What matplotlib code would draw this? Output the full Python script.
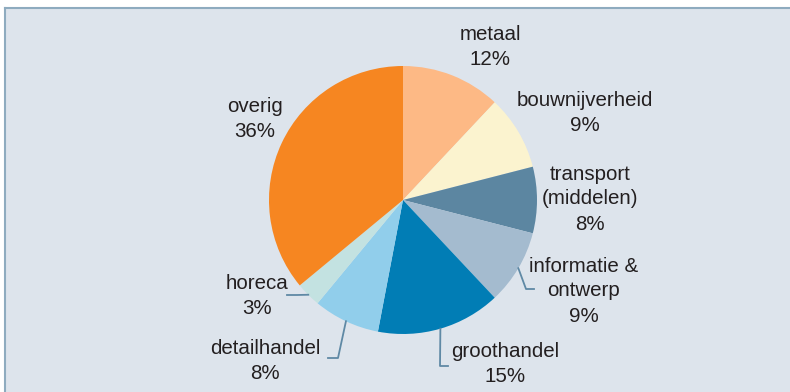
import numpy as np
import matplotlib.pyplot as plt

plt.rcParams['font.family'] = ['Liberation Sans', 'DejaVu Sans']

labels = ["metaal", "bouwnijverheid", "transport\n(middelen)", "informatie &\nontwerp",
          "groothandel", "detailhandel", "horeca", "overig"]
shares = [12, 9, 8, 9, 15, 8, 3, 36]
colors = ["#fdb985", "#fbf3cf", "#5c86a1", "#a4bbcf", "#017db5", "#91ceeb", "#c3e2e1", "#f68621"]

# label centres in pixel coords (x, y from top) and leader line elbows (None = no line)
label_pos = [(490, 47), (585, 113), (590, 199), (584, 291), (505, 364), (265, 361), (257, 296), (255, 119)]
elbows = [None, None, None, [(526, 289), (534, 289)], [(440, 366), (448, 366)],
          [(338, 358), (328, 358)], [(297, 295), (287, 295)], None]

W, H = 790, 392
fig = plt.figure(figsize=(W / 100, H / 100), dpi=100)
fig.patch.set_facecolor("white")
ax = fig.add_axes([5 / W, 0, 785 / W, 384 / H])
ax.set_facecolor("#dde4ec")

cx, cy, r = 403, H - 200, 134
wedges, _ = ax.pie(shares, colors=colors, startangle=90, counterclock=False,
                   center=(cx, cy), radius=r, frame=True,
                   wedgeprops=dict(linewidth=0))

for i, w in enumerate(wedges):
    lx, ly = label_pos[i]
    pct = f"{shares[i]}%"
    ax.text(lx, H - ly, labels[i] + "\n" + pct, ha="center", va="center",
            fontsize=14.8, color="#231f20", linespacing=1.4)
    if elbows[i] is not None:
        ang = np.deg2rad((w.theta1 + w.theta2) / 2)
        pts = [(cx + r * np.cos(ang), cy + r * np.sin(ang))] + [(x, H - y) for x, y in elbows[i]]
        xs, ys = zip(*pts)
        ax.plot(xs, ys, color="#5f89a5", lw=1.3)

ax.set_xlim(5, 790)
ax.set_ylim(0, 384)
ax.set_xticks([])
ax.set_yticks([])
for s in ["right", "bottom"]:
    ax.spines[s].set_visible(False)
for s in ["top", "left"]:
    ax.spines[s].set_color("#8eabbf")
    ax.spines[s].set_linewidth(1.5)

fig.savefig("out.png", dpi=100)
